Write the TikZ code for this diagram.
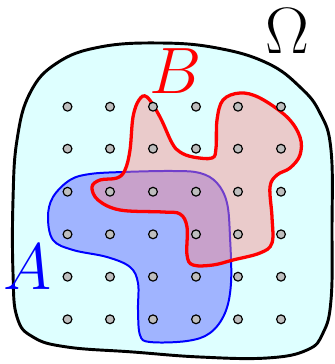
\RequirePackage{fix-cm}
\documentclass[tikz,border=0pt]{standalone}
\usepackage{xcolor,tikz}
\usetikzlibrary{positioning}
\definecolor{setOmegaFill}{HTML}{DEFFFF}
\definecolor{setAFill}{HTML}{A0B4FF}
\definecolor{setBFill}{HTML}{FA8C8C}
\definecolor{setDotFill}{HTML}{BEBEBE}
\tikzset{
  omega set/.style={
    draw=black, line width=2.5pt, fill=setOmegaFill,
  },
  a set/.style={
    draw=blue, line width=1.7pt, fill=setAFill,
  },
  b set/.style={
    draw=red, line width=2.8pt, fill=setBFill, fill opacity=0.45,
  },
  grid dot/.style={
    circle, draw=black, line width=1pt, fill=setDotFill,
    minimum size=7.5pt, inner sep=0pt,
  },
  set label/.style={
    font=\fontsize{56}{56}\selectfont, inner sep=0pt,
  },
}

\begin{document}
\begin{tikzpicture}[x=0.03cm, y=-0.03cm]

\useasboundingbox (0,0) rectangle (334,364);

% --- UNIVERSE ---
\draw[omega set] plot[smooth cycle, tension=0.7] coordinates {
  (100,47) (160,43) (217,48) (267,63) (300,87) (320,113) (331,150)
  (332,230) (331,300) (323,333) (307,350) (267,358) (200,357)
  (133,352) (67,347) (33,337) (17,317) (13,273) (13,200) (17,140)
  (30,93) (57,63)};

% --- SET A ---
\draw[a set] plot[smooth cycle, tension=0.6] coordinates {
  (123,172) (173,171) (200,173) (217,183) (227,203) (230,237)
  (231,283) (225,313) (210,333) (187,341) (150,342) (140,335)
  (138,310) (138,283) (130,267) (107,257) (73,250) (53,240)
  (48,217) (53,197) (70,180) (90,174)};

% --- SET B ---
\draw[b set] plot[smooth cycle, tension=0.6] coordinates {
  (147,97) (160,117) (172,143) (180,152) (193,157) (212,158)
  (216,148) (217,120) (223,100) (240,93) (260,98) (287,117)
  (300,137) (300,155) (290,168) (277,175) (270,187) (272,217)
  (272,243) (260,253) (233,260) (213,265) (193,265) (187,255)
  (187,227) (180,214) (163,212) (120,210) (98,200) (92,187)
  (100,180) (117,178) (125,170) (130,150) (133,117) (139,100)};

% --- GRID POINTS ---
\foreach \i/\x in {1/67.5,2/110,3/153,4/196,5/238,6/281}
  \foreach \j/\y in {1/106.7,2/148.7,3/191.7,4/234.3,5/276.7,6/319.3}
    \node[grid dot] (dot-\i-\j) at (\x,\y) {};

% --- LABELS ---
\node[set label, text=black] (labelOmega) at (287,31) {$\Omega$};
\node[set label, text=red] (labelB) at (176,71) {$B$};
\node[set label, text=blue] (labelA) at (28,267) {$A$};

\end{tikzpicture}
\end{document}
